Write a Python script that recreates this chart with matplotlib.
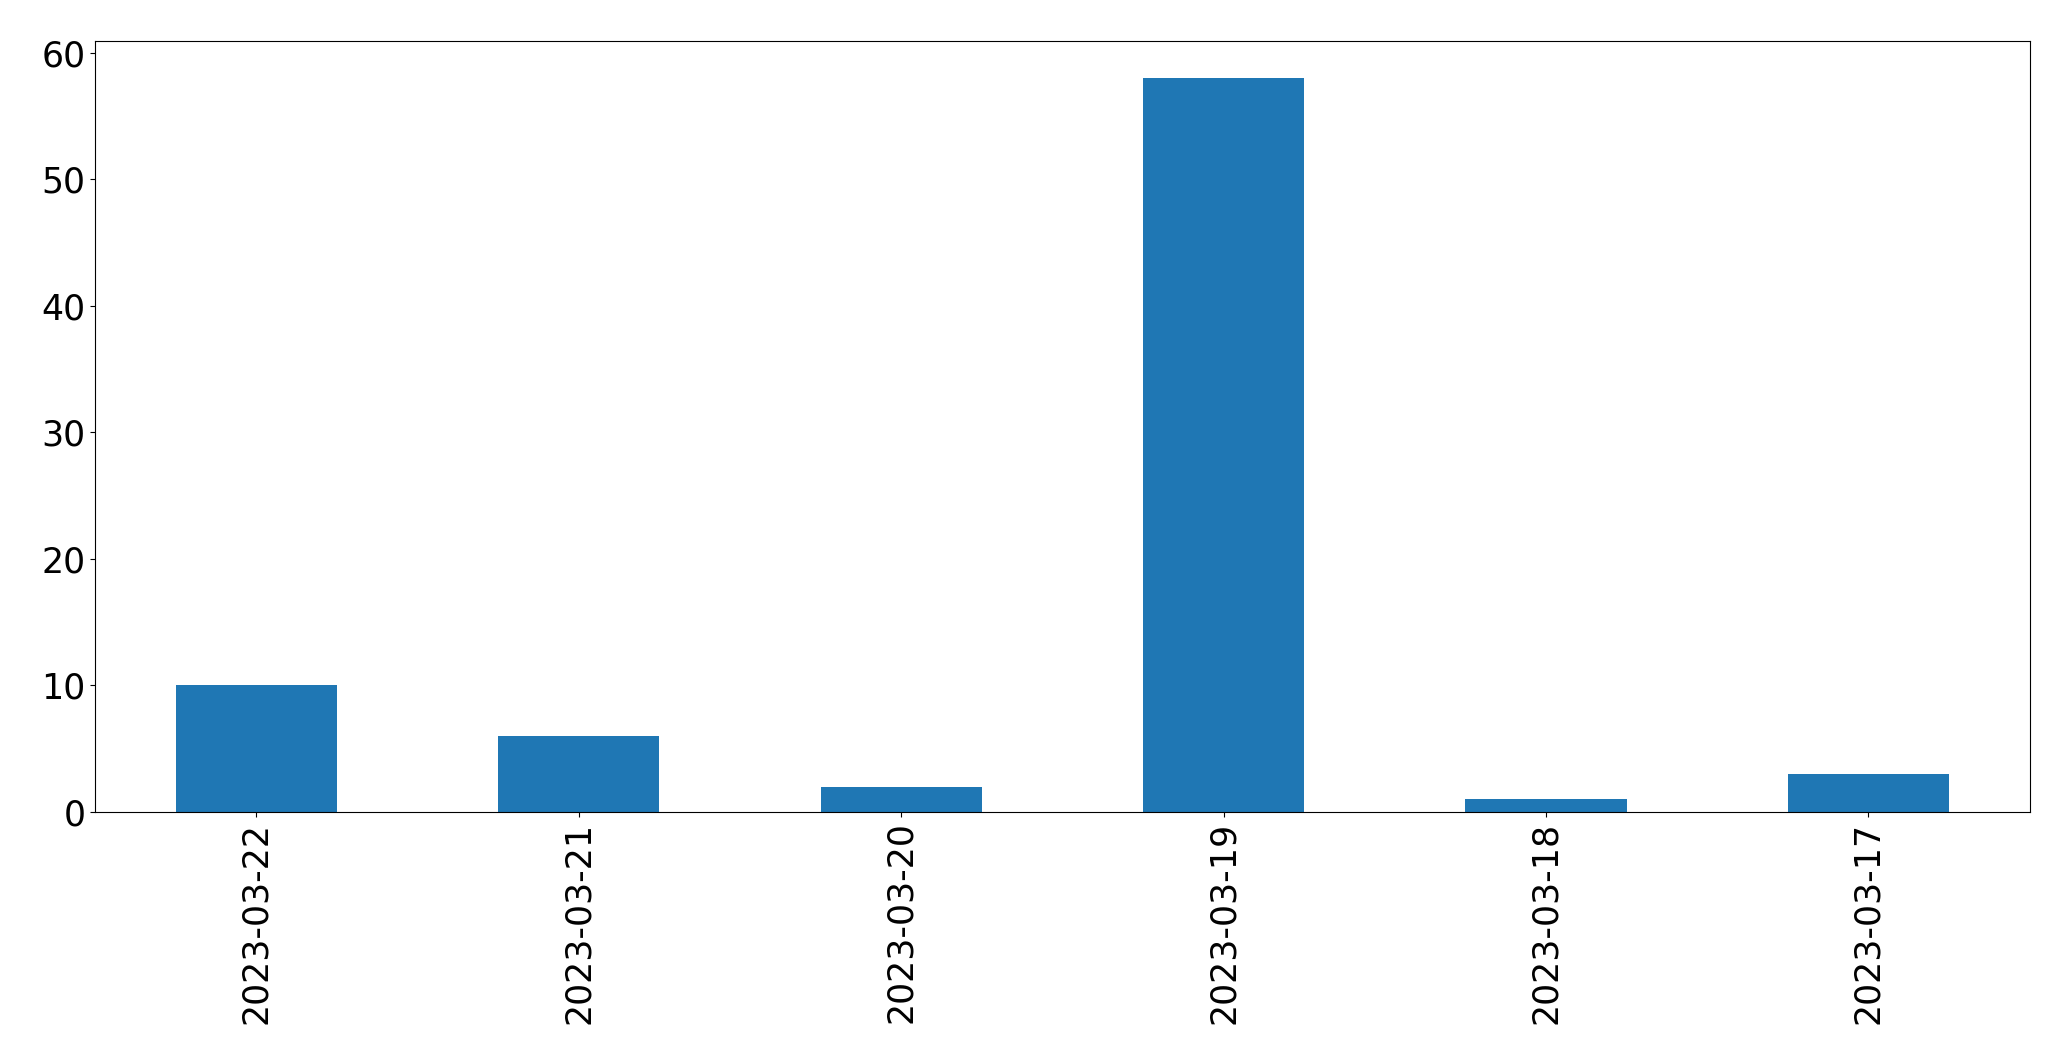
import matplotlib
matplotlib.use("Agg")
import matplotlib.pyplot as plt

# daily counts, newest first (as in the original)
dates = ["2023-03-22", "2023-03-21", "2023-03-20", "2023-03-19", "2023-03-18", "2023-03-17"]
counts = [10, 6, 2, 58, 1, 3]

fig, ax = plt.subplots(figsize=(20.71, 10.64), dpi=100)
x = range(len(dates))
ax.bar(x, counts, width=0.5, color="#1f77b4")
ax.set_xlim(-0.5, len(dates) - 0.5)
ax.set_xticks(list(x))
ax.set_xticklabels(dates, rotation=90)
ax.tick_params(labelsize=25)

fig.subplots_adjust(left=0.046, right=0.980, top=0.961, bottom=0.237)
fig.savefig("out.png")
